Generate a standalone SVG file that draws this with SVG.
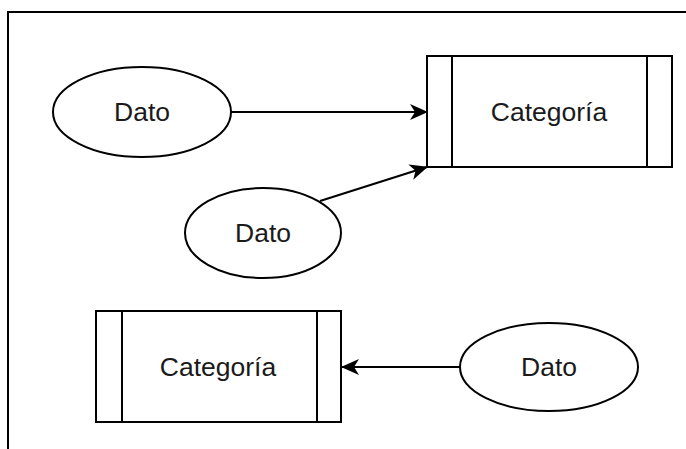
<svg xmlns="http://www.w3.org/2000/svg" width="686" height="449" viewBox="0 0 686 449">
<style>
.shape{fill:#fff;stroke:#000;stroke-width:2}
.div{fill:none;stroke:#000;stroke-width:2}
.lbl{font-family:"Liberation Sans",Arial,sans-serif;font-size:26.5px;fill:#1a1a1a;text-anchor:middle}
.edge{fill:none;stroke:#000;stroke-width:2}
</style>
<defs>
<marker id="arr" markerUnits="userSpaceOnUse" viewBox="0 0 18 16" refX="17" refY="8" markerWidth="18" markerHeight="16" orient="auto">
<path d="M0,0 L18,8 L0,16 L5,8 Z" fill="#000"/>
</marker>
</defs>
<rect width="686" height="449" fill="#fff"/>
<path d="M8,449 V12 H686" fill="none" stroke="#000" stroke-width="2"/>
<g id="connectors">
<line class="edge" x1="231" y1="112" x2="427" y2="112" marker-end="url(#arr)"/>
<line class="edge" x1="320" y1="201" x2="427" y2="167" marker-end="url(#arr)"/>
<line class="edge" x1="460" y1="367" x2="342" y2="367" marker-end="url(#arr)"/>
</g>
<g id="dato1">
<ellipse class="shape" cx="142" cy="112" rx="89" ry="45"/>
<text class="lbl" x="142" y="121">Dato</text>
</g>
<g id="categoria1">
<rect class="shape" x="427" y="56" width="245" height="111"/>
<line class="div" x1="452" y1="56" x2="452" y2="167"/>
<line class="div" x1="647" y1="56" x2="647" y2="167"/>
<text class="lbl" x="549" y="121">Categoría</text>
</g>
<g id="dato2">
<ellipse class="shape" cx="263" cy="233" rx="78" ry="45"/>
<text class="lbl" x="263" y="242">Dato</text>
</g>
<g id="categoria2">
<rect class="shape" x="96" y="311" width="245" height="111"/>
<line class="div" x1="122" y1="311" x2="122" y2="422"/>
<line class="div" x1="317" y1="311" x2="317" y2="422"/>
<text class="lbl" x="218" y="376">Categoría</text>
</g>
<g id="dato3">
<ellipse class="shape" cx="549" cy="367" rx="89" ry="44"/>
<text class="lbl" x="549" y="376">Dato</text>
</g>
</svg>
